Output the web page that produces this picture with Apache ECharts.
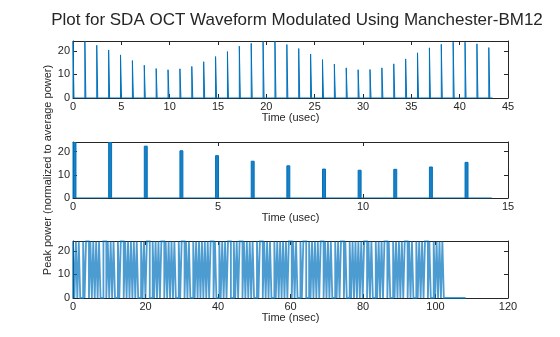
<!DOCTYPE html>
<html>
<head>
<meta charset="utf-8">
<script src="https://cdn.jsdelivr.net/npm/echarts@6/dist/echarts.min.js"></script>
<style>
  html, body { margin: 0; padding: 0; background: #fff; }
  #chart { width: 560px; height: 337px; }
</style>
</head>
<body>
<div id="chart"></div>
<script>
// pulse train (usec) - start of each pulse and its peak power
const pulseStart = [0, 1.229, 2.458, 3.687, 4.916, 6.145, 7.374, 8.603, 9.832, 11.061,
  12.29, 13.519, 14.748, 15.977, 17.206, 18.435, 19.664, 20.893, 22.122, 23.351,
  24.58, 25.809, 27.038, 28.267, 29.496, 30.725, 31.954, 33.183, 34.412, 35.641,
  36.87, 38.099, 39.328, 40.557, 41.786, 43.015]
const pulsePeak = [24, 24, 22.4, 20.4, 18.3, 15.9, 13.9, 12.5, 12.0, 12.4,
  13.4, 15.4, 17.6, 19.7, 22.0, 23.2, 24, 24, 22.7, 21.0,
  18.7, 16.3, 14.4, 12.8, 12.0, 12.1, 12.8, 14.5, 16.6, 19.2,
  21.3, 22.8, 23.7, 23.7, 23.0, 21.4]
const pulseWidth = 0.1023     // usec
const traceEnd1 = 43.4        // usec, end of data in top plot
const traceEnd2 = 14.44       // usec, end of data in middle plot

// one pulse in detail (nsec): Manchester coded bits
const bits = [
  1,1,1,0,0,1,1,1,1,1,0,1,1,1,1,0,0,1,1,1,1,1,1,0,0,0,1,0,0,0,0,
  1,1,1,1,1,0,0,1,1,1,0,0,0,0,0,0,0,1,1,0,0,0,0,1,0,0,0,1,1,1,1,1,0,0,
  1,1,1,1,0,0,0,0,0,0,1,1,1,0,0,1,0,0,0,0,0,1,1,1,1,0,0,0,1,1,0,0,0,0,0,0,
  1,1,1,0,0,0,0,1,1,0,0,0,0,0,1,1,1,0,0,0,0,1,1,0,0,0,0]
const chipWidth = 0.3996      // nsec
const peakLevel = 24
const traceEnd3 = 108.3       // nsec

const yMax = 24.2
const blue = '#0072BD'
const ink = '#262626'

function pulseTrace(end) {
  const pts = [[0, 0]]
  for (let i = 0; i < pulseStart.length; i++) {
    const t = pulseStart[i]
    if (t > end) break
    pts.push([t, 0], [t, pulsePeak[i]], [t + pulseWidth, pulsePeak[i]], [t + pulseWidth, 0])
  }
  pts.push([end, 0])
  return pts
}

function manchesterTrace() {
  const pts = [[0, 0]]
  let n = 0
  bits.forEach(b => {
    const chips = b ? [1, 0] : [0, 1]
    chips.forEach(c => {
      pts.push([n * chipWidth, c * peakLevel], [(n + 1) * chipWidth, c * peakLevel])
      n++
    })
  })
  pts.push([n * chipWidth, 0], [traceEnd3, 0])
  return pts
}

const grids = [
  { left: 73, right: 52, top: 41, height: 57 },
  { left: 73, right: 52, top: 142, height: 56 },
  { left: 73, right: 52, top: 241, height: 57 },
]
const xMax = [45, 15, 120]
const xStep = [5, 5, 20]
const xName = ['Time (usec)', 'Time (usec)', 'Time (nsec)']

const labelFont = { color: ink, fontSize: 11, fontFamily: 'Liberation Sans, Arial, sans-serif' }

const xAxes = []
const yAxes = []
grids.forEach((g, i) => {
  xAxes.push({
    gridIndex: i, type: 'value', min: 0, max: xMax[i], interval: xStep[i],
    position: 'bottom',
    axisLine: { show: true, onZero: false, lineStyle: { color: ink, width: 1 } },
    axisTick: { inside: true, length: 4, lineStyle: { color: ink } },
    axisLabel: { ...labelFont, margin: 3 },
    splitLine: { show: false },
    name: xName[i], nameLocation: 'middle', nameGap: 14, nameMoveOverlap: false,
    nameTextStyle: labelFont,
  })
  xAxes.push({
    gridIndex: i, type: 'value', min: 0, max: xMax[i], interval: xStep[i],
    position: 'top',
    axisLine: { show: true, onZero: false, lineStyle: { color: ink, width: 1 } },
    axisTick: { inside: true, length: 4, lineStyle: { color: ink } },
    axisLabel: { show: false },
    splitLine: { show: false },
  })
  const yl = {
    gridIndex: i, type: 'value', min: 0, max: yMax,
    position: 'left',
    axisLine: { show: true, onZero: false, lineStyle: { color: ink, width: 1 } },
    axisTick: { inside: true, length: 4, customValues: [0, 10, 20], lineStyle: { color: ink } },
    axisLabel: { ...labelFont, margin: 3, customValues: [0, 10, 20] },
    splitLine: { show: false },
  }
  if (i === 1) {
    yl.name = 'Peak power (normalized to average power)'
    yl.nameLocation = 'middle'
    yl.nameGap = 20
    yl.nameMoveOverlap = false
    yl.nameTextStyle = labelFont
  }
  yAxes.push(yl)
  yAxes.push({
    gridIndex: i, type: 'value', min: 0, max: yMax,
    position: 'right',
    axisLine: { show: true, onZero: false, lineStyle: { color: ink, width: 1 } },
    axisTick: { inside: true, length: 4, customValues: [0, 10, 20], lineStyle: { color: ink } },
    axisLabel: { show: false },
    splitLine: { show: false },
  })
})

const chart = echarts.init(document.getElementById('chart'), null, { renderer: 'canvas' })
chart.setOption({
  animation: false,
  backgroundColor: '#fff',
  graphic: [{
    type: 'text', x: 297, y: 20,
    style: { text: 'Plot for SDA OCT Waveform Modulated Using Manchester-BM12', fill: ink,
      fontSize: 17, fontFamily: 'Liberation Sans, Arial, sans-serif',
      align: 'center', verticalAlign: 'middle' },
  }],
  grid: grids,
  xAxis: xAxes,
  yAxis: yAxes,
  series: [
    {
      type: 'line', xAxisIndex: 0, yAxisIndex: 0, data: pulseTrace(traceEnd1),
      showSymbol: false, lineStyle: { color: blue, width: 1 },
      areaStyle: { color: blue, opacity: 0.6 },
    },
    {
      type: 'line', xAxisIndex: 2, yAxisIndex: 2, data: pulseTrace(traceEnd2),
      showSymbol: false, lineStyle: { color: blue, width: 1 },
      areaStyle: { color: blue, opacity: 0.9 },
    },
    {
      type: 'line', xAxisIndex: 4, yAxisIndex: 4, data: manchesterTrace(),
      showSymbol: false,
      lineStyle: { color: blue, width: 1.8, opacity: 0.7, join: 'miter', cap: 'butt' },
    },
  ],
})
</script>
</body>
</html>
